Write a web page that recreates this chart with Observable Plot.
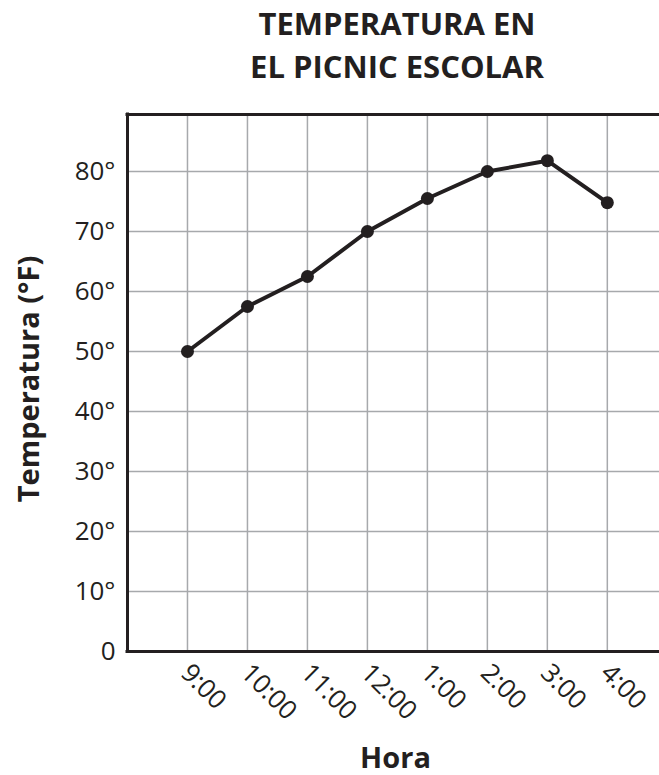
<!DOCTYPE html>
<html><head><meta charset="utf-8">
<script src="https://cdn.jsdelivr.net/npm/d3@7"></script>
<script src="https://cdn.jsdelivr.net/npm/@observablehq/plot@0.6"></script>
<style>
html,body{margin:0;padding:0;background:#fff;}
#wrap{position:relative;width:659px;height:775px;overflow:hidden;}
#title{position:absolute;left:127px;width:540px;top:2px;text-align:center;font-family:"Open Sans",sans-serif;font-weight:700;font-size:31px;line-height:43px;color:#231f20;}
#chart{position:absolute;left:0;top:100px;}
#chart svg{display:block;}
</style></head>
<body>
<div id="wrap">
  <div id="title">TEMPERATURA EN<br>EL PICNIC ESCOLAR</div>
  <div id="chart"></div>
</div>
<script>
const horas = ["9:00", "10:00", "11:00", "12:00", "1:00", "2:00", "3:00", "4:00"];
const temperaturas = [50, 57.5, 62.5, 70, 75.5, 80, 81.8, 74.8];
const yTicks = [0, 10, 20, 30, 40, 50, 60, 70, 80];
const yLabel = "Temperatura (°F)";
const xLabel = "Hora";

const data = horas.map((h, i) => ({i, hora: h, temp: temperaturas[i]}));
const ink = "#231f20";
const grid = "#a7a9ac";
const yTop = 89.5;

const chart = Plot.plot({
  width: 659,
  height: 675,
  marginLeft: 127,
  marginRight: 0,
  marginTop: 14,
  marginBottom: 124,
  x: {type: "linear", domain: [-1, 7.87], axis: null},
  y: {type: "linear", domain: [0, yTop], axis: null},
  style: {fontFamily: "'Open Sans', sans-serif", background: "white", color: ink},
  marks: [
    Plot.ruleX(data, {x: "i", stroke: grid, strokeWidth: 1.5}),
    Plot.ruleY(yTicks.filter(d => d > 0), {y: d => d, stroke: grid, strokeWidth: 1.5}),
    Plot.ruleY([yTop], {stroke: ink, strokeWidth: 3, strokeLinecap: "square"}),
    Plot.ruleY([0], {stroke: ink, strokeWidth: 3, strokeLinecap: "square"}),
    Plot.ruleX([-1], {stroke: ink, strokeWidth: 3, strokeLinecap: "square"}),
    Plot.line(data, {x: "i", y: "temp", stroke: ink, strokeWidth: 4, strokeLinejoin: "round"}),
    Plot.dot(data, {x: "i", y: "temp", r: 6.5, fill: ink, stroke: "none"}),
    Plot.text(yTicks, {y: d => d, frameAnchor: "left", text: d => d === 0 ? "0" : d + "°", textAnchor: "end", dx: -12, fontSize: 26, fill: ink}),
    Plot.text(data, {x: "i", text: "hora", frameAnchor: "bottom", rotate: 45, textAnchor: "start", lineAnchor: "bottom", dx: -8, dy: 23, fontSize: 26, fill: ink}),
    Plot.text([yLabel], {text: d => d, frameAnchor: "left", rotate: -90, textAnchor: "middle", dx: -89, dy: -4, lineAnchor: "bottom", fontSize: 29, fontWeight: "bold", fill: ink}),
    Plot.text([xLabel], {text: d => d, frameAnchor: "bottom", textAnchor: "middle", dx: 2, dy: 116, lineAnchor: "bottom", fontSize: 29, fontWeight: "bold", fill: ink})
  ]
});
document.getElementById("chart").appendChild(chart);
</script>
</body></html>
